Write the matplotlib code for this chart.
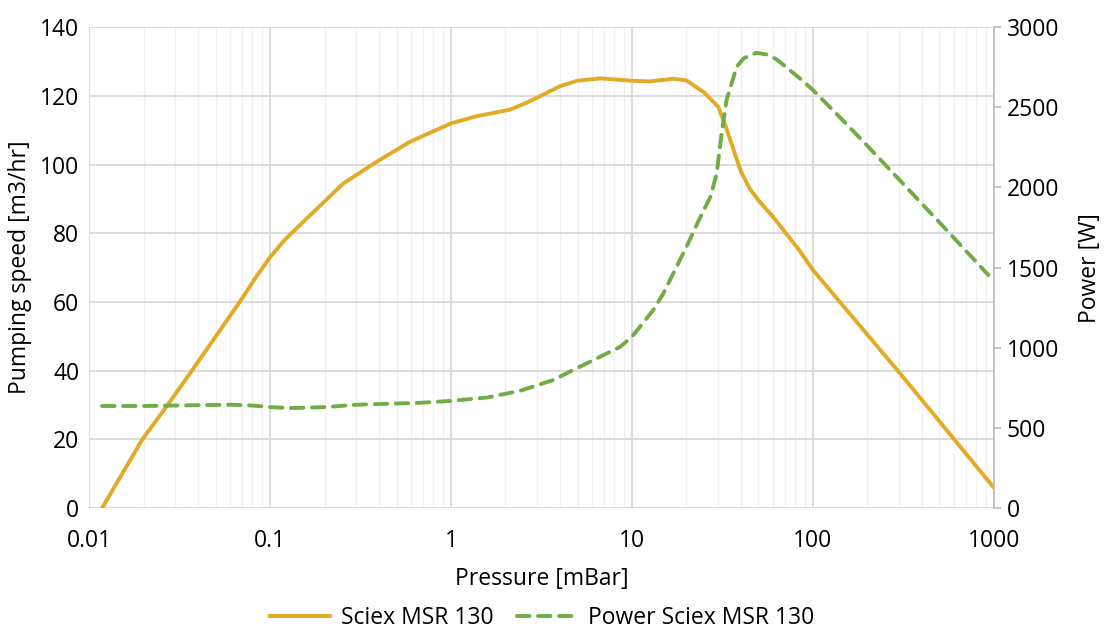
import matplotlib.pyplot as plt
from matplotlib.ticker import FixedLocator, LogLocator, NullFormatter

plt.rcParams['font.family'] = ['Open Sans', 'DejaVu Sans']

# values
speed_p = [0.0118, 0.0197, 0.0269, 0.037, 0.068, 0.083, 0.1, 0.12, 0.156, 0.254, 0.388, 0.591,
           1, 1.39, 2.12, 2.62, 3.24, 4.0, 4.97, 6.7, 10, 12.5, 17, 20, 25, 30, 33,
           36.3, 40, 44.7, 50, 60.8, 84.7, 100, 303, 990]
speed = [0, 20, 29.7, 40, 60, 67, 73, 78, 83.8, 94.5, 100.8, 106.6,
         112, 114.1, 116, 118, 120.4, 122.8, 124.4, 125.1, 124.4, 124.2, 125, 124.5, 121, 116.8, 111,
         104.5, 98, 93, 89.6, 84.5, 74.8, 69.3, 39.2, 6.2]

power_p = [0.0118, 0.02, 0.04, 0.06, 0.08, 0.1, 0.13, 0.2, 0.3, 0.674, 1, 1.58, 2.41,
           3.65, 5.6, 8.6, 10, 13.1, 14.9, 20, 23.5, 27.2, 29.4, 30.3, 31.3, 33.3, 37.9,
           41.3, 48.6, 55.3, 62.8, 84.7, 100, 152, 202, 278, 548, 931]
power = [637, 637, 642, 645, 640, 630, 624, 630, 645, 657, 669, 690, 732,
         798, 902, 1006, 1069, 1235, 1339, 1630, 1800, 1945, 2090, 2210, 2340, 2545, 2753,
         2805, 2840, 2830, 2800, 2680, 2608, 2400, 2254, 2088, 1734, 1454]

orange = '#E2AA25'
green = '#70AD47'
text_c = '#000000'
fs = 16.5

fig = plt.figure(figsize=(11.06, 6.32), dpi=100)
ax = fig.add_axes([0.0805, 0.196, 0.8182, 0.761])
ax2 = ax.twinx()

ax.set_xscale('log')
ax.set_xlim(0.01, 1000)
ax.set_ylim(0, 140)
ax2.set_ylim(0, 3000)

ax.xaxis.set_major_locator(FixedLocator([0.01, 0.1, 1, 10, 100, 1000]))
ax.set_xticklabels(['0.01', '0.1', '1', '10', '100', '1000'])
ax.xaxis.set_minor_locator(LogLocator(base=10, subs=range(2, 10)))
ax.xaxis.set_minor_formatter(NullFormatter())
ax.set_yticks(range(0, 141, 20))
ax2.set_yticks(range(0, 3001, 500))

ax.grid(which='major', color='#D9D9D9', linewidth=1.3)
ax.grid(which='minor', axis='x', color='#F0F0F0', linewidth=1.0)
ax.set_axisbelow(True)

for s in ['top', 'left', 'bottom', 'right']:
    ax.spines[s].set_visible(False)
for s in ['top', 'left', 'bottom']:
    ax2.spines[s].set_visible(False)
ax2.spines['right'].set_color('#BFBFBF')
ax2.spines['right'].set_linewidth(1.3)

ax.tick_params(axis='y', length=0, labelsize=fs, colors=text_c, pad=7)
ax.tick_params(axis='x', which='both', length=0, labelsize=fs, colors=text_c, pad=15)
ax2.tick_params(axis='y', length=5, width=1.3, color='#BFBFBF', labelsize=fs, labelcolor=text_c, pad=4)

l1, = ax.plot(speed_p, speed, color=orange, linewidth=2.8, label='Sciex MSR 130', zorder=3)
l2, = ax2.plot(power_p, power, color=green, linewidth=2.8, linestyle=(0, (3.2, 2.2)),
               dash_capstyle='round', label='Power Sciex MSR 130', zorder=3)

ax.set_xlabel('Pressure [mBar]', fontsize=fs, labelpad=10)
ax.set_ylabel('Pumping speed [m3/hr]', fontsize=fs, labelpad=6)
ax2.set_ylabel('Power [W]', fontsize=fs, labelpad=14)

fig.legend(handles=[l1, l2], loc='center', bbox_to_anchor=(0.49, 0.022), ncol=2,
           frameon=False, fontsize=fs, handlelength=2.6, columnspacing=1.0, handletextpad=0.5)

fig.savefig('out.png', dpi=100, facecolor='white')
